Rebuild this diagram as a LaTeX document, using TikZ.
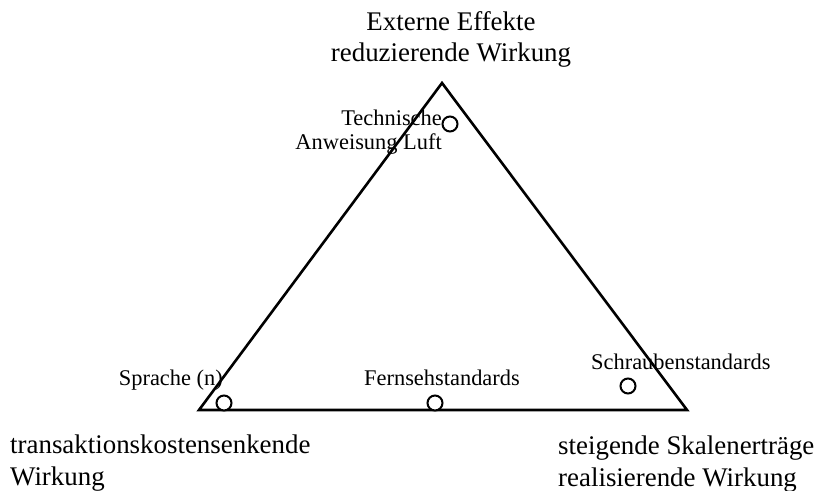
\documentclass[tikz,border=0pt]{standalone}
\usepackage{fontspec}
\setmainfont{Liberation Serif}
\begin{document}
\begin{tikzpicture}[x=1bp,y=-1bp,
  edge/.style={line width=2.6bp, line join=miter},
  mark circle/.style={circle, draw, line width=2bp, minimum size=15bp, inner sep=0pt, fill=white},
  cornerlabel/.style={font=\fontsize{27}{32}\selectfont, inner sep=0pt, align=left},
  itemlabel/.style={font=\fontsize{22.5}{25}\selectfont, inner sep=0pt}]
\useasboundingbox (0,0) rectangle (818,491);
% corners of the triangle
\coordinate (top) at (442,83);
\coordinate (bl) at (199,410);
\coordinate (br) at (687,410);
\draw[edge] (top) -- (bl) -- (br) -- cycle;
% corner captions (base anchor sits on the last line)
\node[cornerlabel, align=center, anchor=base] (ext) at (451,62)
  {Externe Effekte\\reduzierende Wirkung};
\node[cornerlabel, anchor=base west] (trans) at (10,485)
  {transaktionskostensenkende\\Wirkung};
\node[cornerlabel, anchor=base west] (skal) at (558,486)
  {steigende Skalenerträge\\realisierende Wirkung};
% standards placed in the triangle
\node[mark circle] (c1) at (450,124) {};
\node[mark circle] (c2) at (224,403) {};
\node[mark circle] (c3) at (435,403) {};
\node[mark circle] (c4) at (628,386) {};
\node[itemlabel, align=right, anchor=base east] (l1) at (442,150)
  {Technische\\Anweisung Luft};
\node[itemlabel, anchor=base east] (l2) at (223,385) {Sprache (n)};
\node[itemlabel, anchor=base] (l3) at (442,385) {Fernsehstandards};
\node[itemlabel, anchor=base west] (l4) at (591,369) {Schraubenstandards};
\end{tikzpicture}
\end{document}
